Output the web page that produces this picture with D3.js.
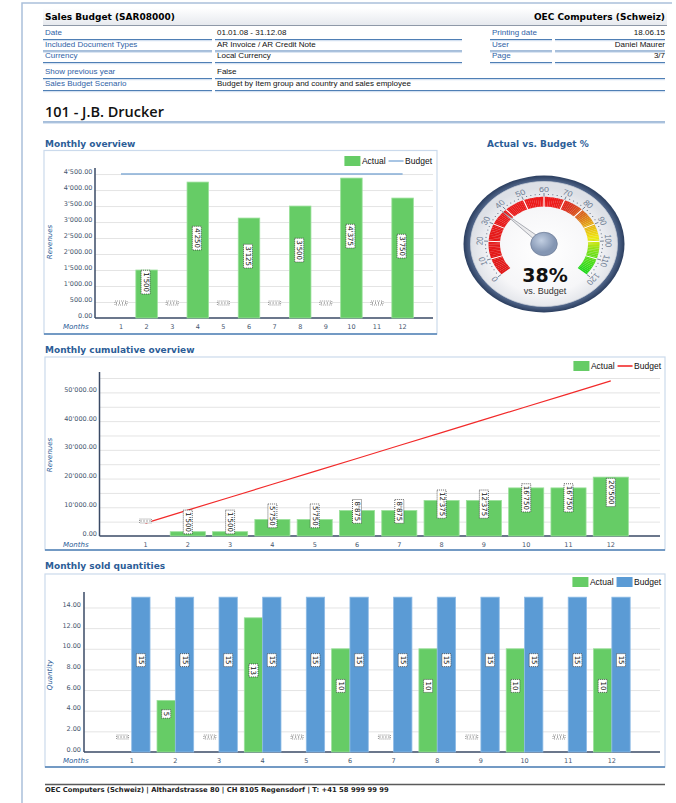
<!DOCTYPE html>
<html>
<head>
<meta charset="utf-8">
<script src="https://cdn.jsdelivr.net/npm/d3@7"></script>
<style>
  html, body { margin: 0; padding: 0; background: #fff; }
  svg { display: block; }
</style>
</head>
<body>
<svg id="page" width="676" height="803"></svg>
<script>
// ===============================
// Data
// ===============================
const months = [1, 2, 3, 4, 5, 6, 7, 8, 9, 10, 11, 12];

const actualRevenue = [0, 1500, 0, 4250, 0, 3125, 0, 3500, 0, 4375, 0, 3750];
const budgetRevenue = [4500, 4500, 4500, 4500, 4500, 4500, 4500, 4500, 4500, 4500, 4500, 4500];

const cumActual = [0, 1500, 1500, 5750, 5750, 8875, 8875, 12375, 12375, 16750, 16750, 20500];
const cumBudget = [4500, 9000, 13500, 18000, 22500, 27000, 31500, 36000, 40500, 45000, 49500, 54000];

const actualQty = [0, 5, 0, 13, 0, 10, 0, 10, 0, 10, 0, 10];
const budgetQty = [15, 15, 15, 15, 15, 15, 15, 15, 15, 15, 15, 15];

const revenueTicks = [0, 500, 1000, 1500, 2000, 2500, 3000, 3500, 4000, 4500];
const cumTicks = [0, 10000, 20000, 30000, 40000, 50000];
const cumGrid = [5000, 10000, 15000, 20000, 25000, 30000, 35000, 40000, 45000, 50000, 55000];
const qtyTicks = [0, 2, 4, 6, 8, 10, 12, 14];

const gaugeValue = 38;
const gaugeTicks = [0, 10, 20, 30, 40, 50, 60, 70, 80, 90, 100, 110, 120];

const headerRows = [
  ["Date", "01.01.08 - 31.12.08", "Printing date", "18.06.15"],
  ["Included Document Types", "AR Invoice / AR Credit Note", "User", "Daniel Maurer"],
  ["Currency", "Local Currency", "Page", "3/7"]
];
const headerRows2 = [
  ["Show previous year", "False"],
  ["Sales Budget Scenario", "Budget by Item group and country and sales employee"]
];

// ===============================
// Setup
// ===============================
const svg = d3.select("#page");
const defs = svg.append("defs");

const loc = d3.formatLocale({ decimal: ".", thousands: "'", grouping: [3], currency: ["", ""] });
const fmtAxis = loc.format(",.2f");
const fmtLabel = loc.format(",d");

const COL = {
  title: "#2c5d97",
  label: "#2f62a6",
  tick: "#46566e",
  axis: "#3a4a66",
  grid: "#e4e4e4",
  green: "#66cc66",
  greenEdge: "#9be09b",
  blue: "#5b9bd5",
  blueEdge: "#8ebbe6",
  boxLine: "#cbdaec",
  rule: "#4f7fb5",
  ruleLight: "#bcd0e8"
};
const SANS = "'Liberation Sans', Arial, sans-serif";
const DEJA = "'DejaVu Sans', Verdana, sans-serif";

function vGrad(id, stops) {
  const g = defs.append("linearGradient").attr("id", id)
    .attr("x1", 0).attr("y1", 0).attr("x2", 0).attr("y2", 1);
  stops.forEach(s => g.append("stop").attr("offset", s[0]).attr("stop-color", s[1]));
}
function rGrad(id, stops, cx = 0.5, cy = 0.5) {
  const g = defs.append("radialGradient").attr("id", id).attr("cx", cx).attr("cy", cy).attr("r", 0.5);
  stops.forEach(s => g.append("stop").attr("offset", s[0]).attr("stop-color", s[1]));
}

vGrad("hdrGrad", [[0, "#ffffff"], [1, "#e6e9ee"]]);
rGrad("ringGrad", [[0.86, "#9aa7bd"], [0.92, "#4f6488"], [1, "#2b3e5f"]]);
rGrad("faceGrad", [[0, "#ffffff"], [0.7, "#f6f6f8"], [1, "#dde0e6"]], 0.5, 0.55);
rGrad("hubGrad", [[0, "#c2cfe2"], [1, "#8496b3"]], 0.4, 0.35);

// page frame
svg.append("path")
  .attr("d", "M22,803 V3 H672")
  .attr("fill", "none")
  .attr("stroke", "#aac0da")
  .attr("stroke-width", 1.5);

// ===============================
// Header block
// ===============================
svg.append("rect")
  .attr("x", 43).attr("y", 8).attr("width", 624).attr("height", 17.5)
  .attr("fill", "url(#hdrGrad)");
svg.append("line")
  .attr("x1", 43).attr("x2", 667).attr("y1", 25.5).attr("y2", 25.5)
  .attr("stroke", "#8f99a8").attr("stroke-width", 1);

svg.append("text")
  .attr("x", 45).attr("y", 20)
  .style("font-family", DEJA).style("font-size", "9px").style("font-weight", "bold")
  .text("Sales Budget (SAR08000)");
svg.append("text")
  .attr("x", 665).attr("y", 20).attr("text-anchor", "end")
  .style("font-family", DEJA).style("font-size", "9px").style("font-weight", "bold")
  .text("OEC Computers (Schweiz)");

const cols = [
  { x0: 43, x1: 212, tx: 45, anchor: "start", fill: COL.label },
  { x0: 215, x1: 462, tx: 217, anchor: "start", fill: "#111" },
  { x0: 490, x1: 552, tx: 492, anchor: "start", fill: COL.label },
  { x0: 555, x1: 665, tx: 665, anchor: "end", fill: "#111" }
];

function ruleLine(x0, x1, y) {
  svg.append("line").attr("x1", x0).attr("x2", x1).attr("y1", y).attr("y2", y)
    .attr("stroke", COL.rule).attr("stroke-width", 1.1);
  svg.append("line").attr("x1", x0).attr("x2", x1).attr("y1", y + 1.2).attr("y2", y + 1.2)
    .attr("stroke", COL.ruleLight).attr("stroke-width", 0.8);
}

function headerCell(col, y, txt, x1) {
  svg.append("text")
    .attr("x", col.tx).attr("y", y).attr("text-anchor", col.anchor)
    .style("font-family", SANS).style("font-size", "8px").style("fill", col.fill)
    .text(txt);
  ruleLine(col.x0, x1 || col.x1, y + 4.5);
}

const rowY = [35, 46.5, 58];
headerRows.forEach((row, i) => {
  row.forEach((txt, j) => headerCell(cols[j], rowY[i], txt));
});
const rowY2 = [74, 86];
headerRows2.forEach((row, i) => {
  headerCell(cols[0], rowY2[i], row[0]);
  headerCell(cols[1], rowY2[i], row[1], 665);
});

svg.append("text")
  .attr("x", 45).attr("y", 116.5)
  .style("font-family", "'Open Sans', sans-serif").style("font-size", "14.5px").style("font-weight", 600)
  .style("fill", "#111")
  .text("101 - J.B. Drucker");
ruleLine(43, 665, 122);

// ===============================
// Helpers for charts
// ===============================
function bandFor(c1, step, pad) {
  return d3.scaleBand()
    .domain(months)
    .range([c1 - step / 2, c1 + (months.length - 0.5) * step])
    .paddingInner(pad)
    .paddingOuter(pad / 2);
}

function chartFrame(title, tx, ty, box) {
  svg.append("text")
    .attr("x", tx).attr("y", ty)
    .style("font-family", DEJA).style("font-size", "9px").style("font-weight", "bold")
    .style("fill", COL.title)
    .text(title);
  if (!box) return;
  svg.append("rect")
    .attr("x", box.x0).attr("y", box.y0)
    .attr("width", box.x1 - box.x0).attr("height", box.y1 - box.y0)
    .attr("fill", "none").attr("stroke", COL.boxLine).attr("stroke-width", 1.2);
  svg.append("line")
    .attr("x1", box.x0).attr("x2", box.x1).attr("y1", box.y1).attr("y2", box.y1)
    .attr("stroke", COL.rule).attr("stroke-width", 1.4);
}

function axisTitles(yTitle, yx, yy, monthsY) {
  svg.append("text")
    .attr("transform", `translate(${yx},${yy}) rotate(-90)`)
    .attr("text-anchor", "middle")
    .style("font-family", DEJA).style("font-size", "7px").style("font-style", "italic")
    .style("fill", COL.title)
    .text(yTitle);
  svg.append("text")
    .attr("x", 63).attr("y", monthsY)
    .style("font-family", DEJA).style("font-size", "7px").style("font-style", "italic")
    .style("fill", COL.title)
    .text("Months");
}

function yAxisAndGrid(y, ticks, grid, ax, x1, labelX) {
  const g = svg.append("g");
  // gridlines
  g.append("g")
    .attr("transform", `translate(${ax},0)`)
    .call(d3.axisLeft(y).tickValues(grid).tickSize(-(x1 - ax)).tickFormat(""))
    .call(s => s.select(".domain").remove())
    .call(s => s.selectAll(".tick line").attr("stroke", COL.grid).attr("stroke-width", 1));
  // labels
  g.append("g")
    .attr("transform", `translate(${labelX},0)`)
    .call(d3.axisLeft(y).tickValues(ticks).tickSize(0).tickPadding(0).tickFormat(fmtAxis))
    .call(s => s.select(".domain").remove())
    .call(s => s.selectAll(".tick text")
      .attr("y", -3)
      .style("font-family", DEJA).style("font-size", "6.5px").style("fill", COL.tick));
  // axis lines
  const [yb, yt] = y.range();
  g.append("line").attr("x1", ax).attr("x2", ax).attr("y1", yt).attr("y2", yb)
    .attr("stroke", COL.axis).attr("stroke-width", 1.5);
  g.append("line").attr("x1", ax).attr("x2", x1).attr("y1", yb).attr("y2", yb)
    .attr("stroke", COL.axis).attr("stroke-width", 1.5);
}

function monthLabels(x, yPos, offset) {
  svg.append("g")
    .attr("transform", `translate(0,${yPos})`)
    .call(d3.axisBottom(x).tickSize(0).tickPadding(0))
    .call(s => s.select(".domain").remove())
    .call(s => s.selectAll(".tick")
      .attr("transform", d => `translate(${x(d) + offset},0)`))
    .call(s => s.selectAll(".tick text")
      .attr("dy", 0).attr("y", 0)
      .style("font-family", DEJA).style("font-size", "6.5px").style("fill", COL.tick));
}

function valueLabel(g, cx, midY, txt) {
  const t = g.append("text")
    .attr("text-anchor", "middle")
    .attr("dominant-baseline", "central")
    .style("font-family", DEJA).style("font-size", "7px").style("fill", "#111")
    .text(txt);
  const len = t.node().getComputedTextLength();
  const h = len + 4, w = 9;
  g.insert("rect", () => t.node())
    .attr("x", cx - w / 2).attr("y", midY - h).attr("width", w).attr("height", h)
    .attr("fill", "#fff").attr("stroke", "#222").attr("stroke-width", 0.7)
    .attr("stroke-dasharray", "1,1");
  t.attr("transform", `translate(${cx},${midY - h / 2}) rotate(90)`);
}

function zeroLabel(g, cx, y) {
  g.append("rect")
    .attr("x", cx - 6).attr("y", y - 2).attr("width", 12).attr("height", 4)
    .attr("fill", "#fff").attr("stroke", "#555").attr("stroke-width", 0.6)
    .attr("stroke-dasharray", "1,1");
  g.append("path")
    .attr("d", d3.range(4).map(i => `M${cx - 4.5 + i * 3},${y - 1.2}v2.4`).join(""))
    .attr("stroke", "#666").attr("stroke-width", 0.6);
}

function legend(items, xRight, yc) {
  const g = svg.append("g");
  let x = xRight;
  items.slice().reverse().forEach(it => {
    const t = g.append("text")
      .attr("y", yc + 3)
      .attr("text-anchor", "end")
      .attr("x", x)
      .style("font-family", SANS).style("font-size", "8.5px").style("fill", "#111")
      .text(it.name);
    const w = t.node().getComputedTextLength();
    x -= w + 1.5;
    if (it.kind === "rect") {
      g.append("rect").attr("x", x - 16).attr("y", yc - 5).attr("width", 16).attr("height", 10)
        .attr("fill", it.color);
      x -= 19;
    } else {
      g.append("line").attr("x1", x - 15).attr("x2", x).attr("y1", yc).attr("y2", yc)
        .attr("stroke", it.color).attr("stroke-width", it.width || 1.2);
      x -= 18;
    }
  });
}

// ===============================
// Monthly overview
// ===============================
(function () {
  chartFrame("Monthly overview", 45, 147, { x0: 44, y0: 150.5, x1: 437, y1: 334 });
  const x = bandFor(121, 25.6, 0.16);
  const y = d3.scaleLinear().domain([0, 4690]).range([318, 168]);
  yAxisAndGrid(y, revenueTicks, revenueTicks.slice(1), 95, 433, 92.5);
  monthLabels(x, 329, x.bandwidth() / 2);
  axisTitles("Revenues", 52, 242, 329);

  const data = months.map((m, i) => ({ m, v: actualRevenue[i], b: budgetRevenue[i] }));
  const g = svg.append("g");
  g.selectAll("rect.bar")
    .data(data.filter(d => d.v > 0))
    .enter().append("rect")
    .attr("class", "bar")
    .attr("x", d => x(d.m)).attr("y", d => y(d.v))
    .attr("width", x.bandwidth()).attr("height", d => y(0) - y(d.v))
    .attr("fill", COL.green).attr("stroke", COL.greenEdge).attr("stroke-width", 0.8);

  g.append("path")
    .datum(data)
    .attr("d", d3.line().x(d => x(d.m) + x.bandwidth() / 2).y(d => y(d.b)))
    .attr("fill", "none").attr("stroke", "#84acd6").attr("stroke-width", 1.5);

  data.forEach(d => {
    const cx = x(d.m) + x.bandwidth() / 2;
    if (d.v > 0) valueLabel(g, cx - 1, (y(d.v) + y(0)) / 2, fmtLabel(d.v));
    else zeroLabel(g, cx, y(0) - 15);
  });

  legend([
    { name: "Actual", kind: "rect", color: COL.green },
    { name: "Budget", kind: "line", color: "#6f9fd2" }
  ], 432, 161);
})();

// ===============================
// Gauge
// ===============================
(function () {
  chartFrame("Actual vs. Budget %", 487, 147);
  const cx = 544, cy = 244, sy = 0.85;
  const ang = d3.scaleLinear().domain([0, 120]).range([-130, 130]);
  const rad = v => ang(v) * Math.PI / 180;
  const g = svg.append("g").attr("transform", `translate(${cx},${cy}) scale(1,${sy})`);

  g.append("circle").attr("r", 80.5).attr("fill", "url(#ringGrad)");
  g.append("circle").attr("r", 73.5).attr("fill", "url(#faceGrad)")
    .attr("stroke", "#c9ced8").attr("stroke-width", 0.8);

  const bandColor = d3.scaleLinear()
    .domain([0, 66, 74, 82, 90, 98, 106, 120])
    .range(["#e01818", "#ee1b1b", "#d9311f", "#d9661c", "#e6b012", "#eee80e", "#7de016", "#1ad81a"]);
  const arc = d3.arc().innerRadius(44).outerRadius(55.5);
  const slices = d3.range(0, 120, 1);
  g.selectAll("path.band")
    .data(slices)
    .enter().append("path")
    .attr("class", "band")
    .attr("d", v => arc({ startAngle: rad(v), endAngle: rad(v + 1.05 > 120 ? 120 : v + 1.05) }))
    .attr("fill", v => bandColor(v + 0.5));

  // separators between segments
  gaugeTicks.slice(1, -1).forEach(v => {
    const a = rad(v);
    g.append("line")
      .attr("x1", Math.sin(a) * 43.5).attr("y1", -Math.cos(a) * 43.5)
      .attr("x2", Math.sin(a) * 56).attr("y2", -Math.cos(a) * 56)
      .attr("stroke", "#fff").attr("stroke-width", 1.2);
  });

  // minor dots and major ticks
  d3.range(0, 121, 2).forEach(v => {
    const a = rad(v);
    if (v % 10 === 0) {
      g.append("line")
        .attr("x1", Math.sin(a) * 56).attr("y1", -Math.cos(a) * 56)
        .attr("x2", Math.sin(a) * 60).attr("y2", -Math.cos(a) * 60)
        .attr("stroke", "#5c6a80").attr("stroke-width", 0.9);
    } else {
      g.append("circle")
        .attr("cx", Math.sin(a) * 58.5).attr("cy", -Math.cos(a) * 58.5)
        .attr("r", 0.6).attr("fill", "#5c6a80");
    }
  });

  g.selectAll("text.gt")
    .data(gaugeTicks)
    .enter().append("text")
    .attr("class", "gt")
    .attr("transform", v => `rotate(${ang(v)}) translate(0,-64.5)`)
    .attr("text-anchor", "middle").attr("dominant-baseline", "central")
    .style("font-family", SANS).style("font-size", "9px").style("fill", "#6c7b92")
    .text(v => v);

  // needle
  g.append("path")
    .attr("transform", `rotate(${ang(gaugeValue)})`)
    .attr("d", "M-3.2,0 L0,-57 L3.2,0 Z")
    .attr("fill", "#ececee").attr("stroke", "#8a8f99").attr("stroke-width", 0.7);

  g.append("ellipse").attr("rx", 13.3).attr("ry", 13.3 * 0.88 / sy)
    .attr("fill", "url(#hubGrad)").attr("stroke", "#6d7c96").attr("stroke-width", 0.8);

  svg.append("text")
    .attr("x", cx + 1).attr("y", 282).attr("text-anchor", "middle")
    .style("font-family", DEJA).style("font-size", "19px").style("font-weight", "bold")
    .style("fill", "#111")
    .text(gaugeValue + "%");
  svg.append("text")
    .attr("x", cx + 1).attr("y", 294).attr("text-anchor", "middle")
    .style("font-family", SANS).style("font-size", "9px").style("fill", "#333")
    .text("vs. Budget");
})();

// ===============================
// Monthly cumulative overview
// ===============================
(function () {
  chartFrame("Monthly cumulative overview", 45, 353, { x0: 45, y0: 357, x1: 665, y1: 550 });
  const x = bandFor(145.5, 42.3, 0.17);
  const y = d3.scaleLinear().domain([0, 57100]).range([536, 372]);
  yAxisAndGrid(y, cumTicks, cumGrid, 99.5, 660, 97);
  monthLabels(x, 547, x.bandwidth() / 2);
  axisTitles("Revenues", 52, 455, 547);

  const data = months.map((m, i) => ({ m, v: cumActual[i], b: cumBudget[i] }));
  const g = svg.append("g");
  g.selectAll("rect.bar")
    .data(data.filter(d => d.v > 0))
    .enter().append("rect")
    .attr("class", "bar")
    .attr("x", d => x(d.m)).attr("y", d => y(d.v))
    .attr("width", x.bandwidth()).attr("height", d => y(0) - y(d.v))
    .attr("fill", COL.green).attr("stroke", COL.greenEdge).attr("stroke-width", 0.8);

  g.append("path")
    .datum(data)
    .attr("d", d3.line().x(d => x(d.m) + x.bandwidth() / 2).y(d => y(d.b)))
    .attr("fill", "none").attr("stroke", "#f22a2a").attr("stroke-width", 1.2);

  data.forEach(d => {
    const cx = x(d.m) + x.bandwidth() / 2;
    if (d.v > 0) valueLabel(g, cx, (y(d.v) + y(0)) / 2, fmtLabel(d.v));
    else zeroLabel(g, cx, y(0) - 15);
  });

  legend([
    { name: "Actual", kind: "rect", color: COL.green },
    { name: "Budget", kind: "line", color: "#f22a2a", width: 1.6 }
  ], 661, 366);
})();

// ===============================
// Monthly sold quantities
// ===============================
(function () {
  chartFrame("Monthly sold quantities", 45, 569, { x0: 45, y0: 574, x1: 665, y1: 767 });
  const x = bandFor(131.7, 43.65, 0.16);
  const sub = d3.scaleBand().domain(["Actual", "Budget"]).range([0, x.bandwidth()]);
  const y = d3.scaleLinear().domain([0, 15.5]).range([752, 592]);
  yAxisAndGrid(y, qtyTicks, qtyTicks.slice(1), 84, 660, 81);
  monthLabels(x, 763, x.bandwidth() / 2);
  axisTitles("Quantity", 52, 675, 763);

  const data = [];
  months.forEach((m, i) => {
    data.push({ m, s: "Actual", v: actualQty[i] });
    data.push({ m, s: "Budget", v: budgetQty[i] });
  });
  const color = d3.scaleOrdinal().domain(["Actual", "Budget"]).range([COL.green, COL.blue]);
  const edge = d3.scaleOrdinal().domain(["Actual", "Budget"]).range([COL.greenEdge, COL.blueEdge]);

  const g = svg.append("g");
  g.selectAll("rect.bar")
    .data(data.filter(d => d.v > 0))
    .enter().append("rect")
    .attr("class", "bar")
    .attr("x", d => x(d.m) + sub(d.s)).attr("y", d => y(d.v))
    .attr("width", sub.bandwidth()).attr("height", d => y(0) - y(d.v))
    .attr("fill", d => color(d.s)).attr("stroke", d => edge(d.s)).attr("stroke-width", 0.8);

  data.forEach(d => {
    const cx = x(d.m) + sub(d.s) + sub.bandwidth() / 2;
    if (d.v > 0) valueLabel(g, cx, (y(d.v) + y(0)) / 2 - 8, fmtLabel(d.v));
    else zeroLabel(g, cx, y(0) - 15);
  });

  legend([
    { name: "Actual", kind: "rect", color: COL.green },
    { name: "Budget", kind: "rect", color: COL.blue }
  ], 661, 582);
})();

// ===============================
// Footer
// ===============================
svg.append("line")
  .attr("x1", 45).attr("x2", 665).attr("y1", 784.5).attr("y2", 784.5)
  .attr("stroke", "#5a5a5a").attr("stroke-width", 1.4);
svg.append("text")
  .attr("x", 45).attr("y", 791.5)
  .style("font-family", DEJA).style("font-size", "6.8px").style("font-weight", "bold")
  .style("fill", "#222")
  .text("OEC Computers (Schweiz) | Althardstrasse 80 | CH 8105 Regensdorf | T: +41 58 999 99 99");
</script>
</body>
</html>
